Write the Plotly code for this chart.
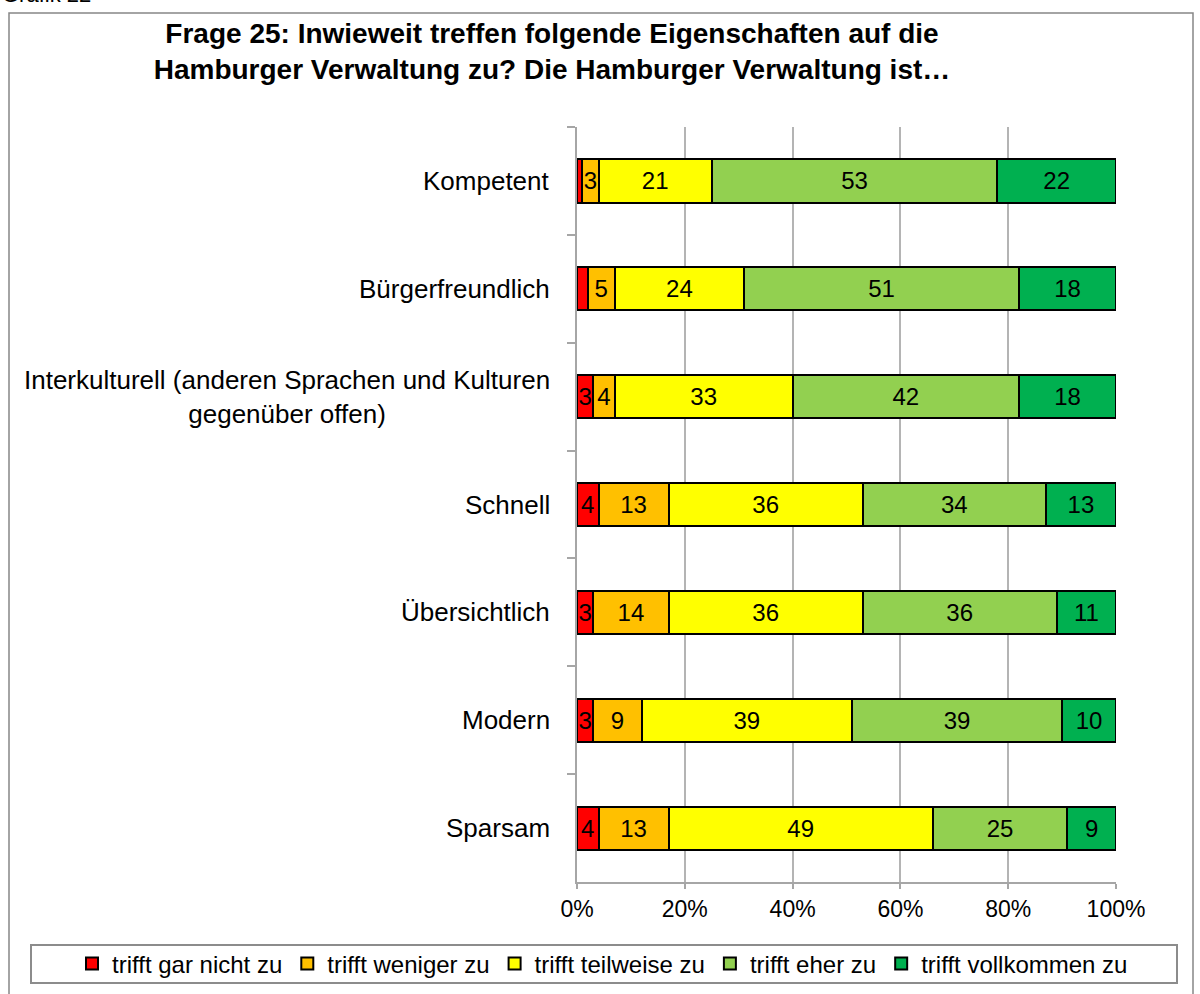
import plotly.graph_objects as go

categories = ["Kompetent", "Bürgerfreundlich",
              "Interkulturell (anderen Sprachen und Kulturen<br>gegenüber offen)",
              "Schnell", "Übersichtlich", "Modern", "Sparsam"]
series_names = ["trifft gar nicht zu", "trifft weniger zu", "trifft teilweise zu",
                "trifft eher zu", "trifft vollkommen zu"]
gar_nicht = [1, 2, 3, 4, 3, 3, 4]
weniger = [3, 5, 4, 13, 14, 9, 13]
teilweise = [21, 24, 33, 36, 36, 39, 49]
eher = [53, 51, 42, 34, 36, 39, 25]
vollkommen = [22, 18, 18, 13, 11, 10, 9]
x_ticks = [0, 20, 40, 60, 80, 100]
x_tick_labels = ["0%", "20%", "40%", "60%", "80%", "100%"]

series_values = [gar_nicht, weniger, teilweise, eher, vollkommen]
colors = ["#FF0000", "#FFC000", "#FFFF00", "#92D050", "#00B050"]

W, H = 1200, 994
L, R, T, B = 577, 1116, 127, 882
def px_x(p):
    return (p - L) / (R - L)
def px_y(p):
    return (B - p) / (B - T)

FONT = "Liberation Sans, Arial, sans-serif"
GRAY = "#A6A6A6"

fig = go.Figure()
for name, vals, col in zip(series_names, series_values, colors):
    fig.add_trace(go.Bar(
        y=categories, x=vals, name=name, orientation="h",
        marker=dict(color=col, line=dict(color="#000000", width=2)),
        text=[str(v) if v >= 3 else "" for v in vals],
        textposition="inside", insidetextanchor="middle",
        textangle=0, constraintext="none",
        textfont=dict(family=FONT, size=24, color="#000000"),
        hoverinfo="name+x",
    ))

annotations = []
for c in categories:
    annotations.append(dict(
        xref="paper", yref="y", x=px_x(552), y=c, text=c,
        xanchor="right", yanchor="middle", align="center", showarrow=False,
        font=dict(family=FONT, size=26, color="#000000")))
annotations.append(dict(
    xref="paper", yref="paper", x=px_x(0), y=px_y(9), text="Grafik 22",
    xanchor="left", yanchor="bottom", showarrow=False,
    font=dict(family=FONT, size=22, color="#000000")))

shapes = [
    dict(type="rect", xref="paper", yref="paper",
         x0=px_x(9), x1=px_x(1193), y0=px_y(13), y1=px_y(1010),
         line=dict(color="#868686", width=1.5), fillcolor="rgba(0,0,0,0)", layer="below"),
    dict(type="rect", xref="paper", yref="paper",
         x0=px_x(31), x1=px_x(1177), y0=px_y(945), y1=px_y(983),
         line=dict(color="#8C8C8C", width=2), fillcolor="rgba(0,0,0,0)"),
]

fig.update_layout(
    width=W, height=H,
    margin=dict(l=L, r=W - R, t=T, b=H - B, autoexpand=False),
    paper_bgcolor="white", plot_bgcolor="white",
    barmode="stack", bargap=0.6,
    title=dict(text="Frage 25: Inwieweit treffen folgende Eigenschaften auf die<br>"
                    "Hamburger Verwaltung zu? Die Hamburger Verwaltung ist…",
               x=552 / W, xanchor="center", xref="container",
               y=1 - 43 / H, yanchor="middle", yref="container",
               font=dict(family=FONT, size=28, color="#000000", weight="bold")),
    xaxis=dict(range=[0, 100], tickmode="array", tickvals=x_ticks, ticktext=x_tick_labels,
               showgrid=True, gridcolor="#B4B4B4", gridwidth=2,
               showline=True, linecolor=GRAY, linewidth=2,
               ticks="outside", ticklen=5, tickcolor=GRAY, tickwidth=2,
               zeroline=False, fixedrange=True,
               tickfont=dict(family=FONT, size=23, color="#000000")),
    yaxis=dict(autorange="reversed", showticklabels=False,
               showline=True, linecolor=GRAY, linewidth=2,
               ticks="outside", ticklen=8, tickcolor=GRAY, tickwidth=2,
               tickson="boundaries", showgrid=False, fixedrange=True),
    legend=dict(orientation="h", xref="paper", yref="paper",
                x=px_x(72), xanchor="left",
                y=px_y(964), yanchor="middle", borderwidth=0,
                bgcolor="rgba(0,0,0,0)",
                font=dict(family=FONT, size=24, color="#000000"),
                traceorder="normal", itemclick=False, itemdoubleclick=False),
    annotations=annotations, shapes=shapes,
    showlegend=True,
)

fig.write_html("out.html", config={"displayModeBar": False},
               post_script="document.body.style.margin='0';document.body.style.padding='0';"
                           "document.body.style.overflow='hidden';")
